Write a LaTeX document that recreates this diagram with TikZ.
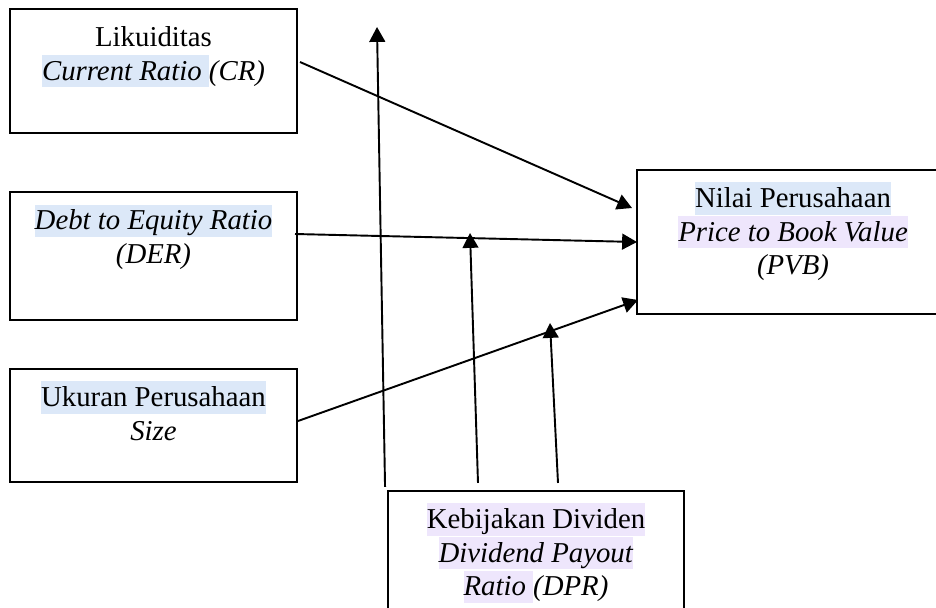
\documentclass[tikz,border=0pt]{standalone}
\usepackage{fontspec}
\setmainfont{Liberation Serif}
\usepackage{tikz}
\usetikzlibrary{arrows.meta,positioning,calc}

\definecolor{hlblue}{RGB}{220,232,248}
\definecolor{hlpurple}{RGB}{238,230,252}
\newcommand{\hlstrut}{\rule[-3pt]{0pt}{13.4pt}}
\newcommand{\hlb}[1]{{\setlength{\fboxsep}{0pt}\colorbox{hlblue}{\hlstrut#1}}}
\newcommand{\hlp}[1]{{\setlength{\fboxsep}{0pt}\colorbox{hlpurple}{\hlstrut#1}}}

\begin{document}
\begin{tikzpicture}[
    x=0.4167pt, y=-0.4167pt,
    box/.style={draw, thick, inner sep=0pt, outer sep=0pt},
    txt/.style={align=center, inner sep=0pt,
                font=\fontsize{12}{14}\selectfont},
    link/.style={thick, -{Triangle[length=6.2pt,width=6.6pt]}},
  ]
  \useasboundingbox (0,0) rectangle (936,608);
  \clip (0,0) rectangle (936,608);

  %% Independent variables
  \node[box, minimum width=119.6pt, minimum height=51.7pt] (cr) at (153.5,71) {};
  \node[txt, below=5pt of cr.north] (crt)
    {\hlstrut Likuiditas\\ \hlb{\textit{Current Ratio }}\textit{(CR)}};

  \node[box, minimum width=119.6pt, minimum height=53.3pt] (der) at (153.5,256) {};
  \node[txt, below=5pt of der.north] (dert)
    {\hlb{\textit{Debt to Equity Ratio}}\\ \hlstrut\textit{(DER)}};

  \node[box, minimum width=119.6pt, minimum height=47.1pt] (size) at (153.5,425.5) {};
  \node[txt, below=5pt of size.north] (sizet)
    {\hlb{Ukuran Perusahaan}\\ \hlstrut\textit{Size}};

  %% Dependent variable (runs off the right edge)
  \node[inner sep=0pt, outer sep=0pt, minimum width=160pt, minimum height=60pt]
    (pvb) at (829,242) {};
  \draw[thick] (pvb.north east) -- (pvb.north west) -- (pvb.south west)
    -- (pvb.south east);
  \node[txt, anchor=north] (pvbt) at ($(pvb.north west)+(156,12)$)
    {\hlb{Nilai Perusahaan}\\ \hlp{\textit{Price to Book Value}}\\ \hlstrut\textit{(PVB)}};

  %% Moderating variable
  \node[box, minimum width=123.3pt, minimum height=51.7pt] (dpr) at (536,553) {};
  \node[txt, below=5pt of dpr.north] (dprt)
    {\hlp{Kebijakan Dividen}\\ \hlp{\textit{Dividend Payout}}\\
     \hlp{\textit{Ratio }}\textit{(DPR)}};

  %% Free ends
  \coordinate (top) at (377,27);
  \coordinate (m1) at (470,233);
  \coordinate (m2) at (550,323);

  %% Links
  \draw[link] ($(cr.east)+(3,-9)$) -- ($(pvb.west)+(-5,-34)$);
  \draw[link] ($(der.east)+(-2,-22)$) -- (pvb.west);
  \draw[link] ($(size.east)+(1,-4.5)$) -- ($(pvb.west)+(1,58)$);
  \draw[link] ($(dpr.north west)+(-3,-4)$) -- (top);
  \draw[link] ($(dpr.north)+(-58,-8)$) -- (m1);
  \draw[link] ($(dpr.north)+(22,-8)$) -- (m2);
\end{tikzpicture}
\end{document}
